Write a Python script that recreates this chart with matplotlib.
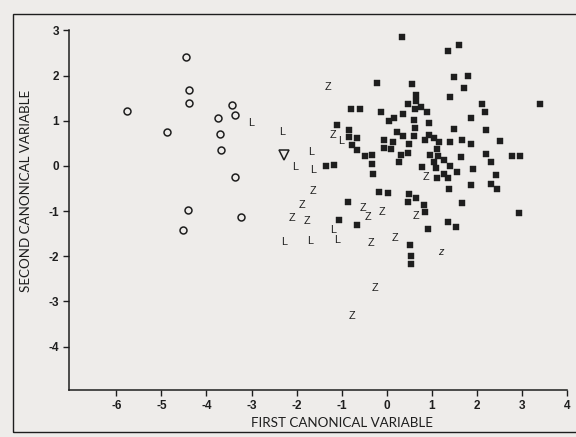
import matplotlib
matplotlib.use("Agg")
import matplotlib.pyplot as plt
from matplotlib.patches import Rectangle

# ---- data ----
sq_x = [0.33, 1.37, 1.61, 1.50, 1.80, 1.72, 1.41, -0.22, 0.55, 0.64, 0.64, 0.48, 0.76, 0.62,
        0.89, 2.12, 2.18, 3.40, -0.80, -0.59, -0.13, 0.36, 0.16, 0.04, 0.61, 1.88, 0.94,
        -1.10, 0.63, 1.50, 2.20, -0.84, 0.22, 0.35, 0.61, 0.93, 1.04, -0.84, -0.65, -0.06,
        0.13, 0.84, 1.15, 1.41, 1.66, 1.86, 2.52, -0.78, 0.49, -0.07, 0.10, 1.12, -0.67,
        0.48, 0.32, -0.48, -0.33, 0.97, 1.13, 1.27, 1.65, 2.21, 2.79, 2.96, 2.31, -0.32,
        0.28, 1.04, -1.35, -1.16, 0.79, 1.10, 1.40, 1.91, 1.56, 1.27, 1.11, 1.37, 2.42,
        1.38, 1.86, 2.31, 2.45, -0.18, 0.02, 0.49, 0.64, 0.48, 0.83, 1.66, -0.86, 0.86,
        2.93, -1.06, -0.66, 0.92, 1.37, 1.54, 0.52, 0.53, 0.53, -0.30]
sq_y = [2.85, 2.54, 2.67, 1.97, 1.99, 1.72, 1.52, 1.84, 1.81, 1.58, 1.43, 1.37, 1.31, 1.25,
        1.19, 1.36, 1.20, 1.36, 1.25, 1.25, 1.19, 1.15, 1.06, 1.00, 1.01, 1.05, 0.96,
        0.91, 0.85, 0.82, 0.79, 0.80, 0.75, 0.66, 0.66, 0.68, 0.61, 0.63, 0.61, 0.57,
        0.52, 0.57, 0.52, 0.52, 0.58, 0.48, 0.56, 0.46, 0.49, 0.40, 0.37, 0.37, 0.35,
        0.29, 0.25, 0.22, 0.25, 0.24, 0.22, 0.13, 0.20, 0.27, 0.22, 0.22, 0.08, 0.05,
        0.09, 0.09, 0.00, 0.01, -0.02, -0.04, -0.01, -0.07, -0.14, -0.18, -0.27, -0.27, -0.21,
        -0.50, -0.43, -0.40, -0.52, -0.58, -0.60, -0.63, -0.71, -0.80, -0.86, -0.83, -0.80, -1.03,
        -1.05, -1.19, -1.31, -1.39, -1.25, -1.36, -1.75, -2.00, -2.17, -0.18]

circ_x = [-4.46, -4.38, -4.38, -5.76, -3.43, -3.37, -3.74, -4.88, -3.70, -3.68, -3.36, -4.41, -3.24, -4.52]
circ_y = [2.41, 1.67, 1.39, 1.22, 1.34, 1.13, 1.05, 0.76, 0.71, 0.35, -0.25, -0.97, -1.14, -1.42]

l_x = [-3.02, -2.33, -1.67, -1.02, -2.03, -1.63, -1.18, -2.28, -1.69, -1.11]
l_y = [0.94, 0.74, 0.30, 0.56, -0.03, -0.09, -1.42, -1.69, -1.67, -1.64]

z_x = [-1.31, -1.20, -1.63, -1.88, -2.11, -1.78, -0.52, -0.41, -0.10, 0.64, 0.86, -0.35, 0.19, -0.27, -0.78]
z_y = [1.74, 0.69, -0.56, -0.86, -1.15, -1.23, -0.93, -1.14, -1.02, -1.11, -0.24, -1.71, -1.60, -2.71, -3.33]
small_z_x = [1.20]
small_z_y = [-1.90]

tri_x = [-2.28]
tri_y = [0.24]

x_ticks = [-6, -5, -4, -3, -2, -1, 0, 1, 2, 3, 4]
y_ticks = [-4, -3, -2, -1, 0, 1, 2, 3]
x_label = "FIRST CANONICAL VARIABLE"
y_label = "SECOND CANONICAL VARIABLE"

# ---- figure ----
bg = "#eeecea"
fig = plt.figure(figsize=(5.76, 4.37), dpi=100, facecolor=bg)
ax = fig.add_axes([0.1198, 0.1076, 0.8646, 0.828])
ax.set_facecolor(bg)

ink = "#1e1e1e"
ax.plot(sq_x, sq_y, linestyle="none", marker="s", markersize=4.7,
        markerfacecolor=ink, markeredgecolor=ink, markeredgewidth=0.3)
ax.plot(circ_x, circ_y, linestyle="none", marker="o", markersize=5.0,
        markerfacecolor="none", markeredgecolor=ink, markeredgewidth=1.1)
ax.plot(tri_x, tri_y, linestyle="none", marker="v", markersize=7.5,
        markerfacecolor="none", markeredgecolor=ink, markeredgewidth=1.1)

letter_font = ["Liberation Sans", "DejaVu Sans"]
for x, y in zip(l_x, l_y):
    ax.text(x, y, "L", ha="center", va="center", fontsize=7.8, color=ink, family=letter_font)
for x, y in zip(z_x, z_y):
    ax.text(x, y, "Z", ha="center", va="center", fontsize=7.8, color=ink, family=letter_font)
for x, y in zip(small_z_x, small_z_y):
    ax.text(x, y, "z", ha="center", va="center", fontsize=7.8, color=ink, family=letter_font,
            style="italic")

ax.set_xlim(-7.05, 4.0)
ax.set_ylim(-4.96, 3.05)
ax.set_xticks(x_ticks)
ax.set_yticks(y_ticks)
ax.set_xticklabels([str(t) for t in x_ticks])
ax.set_yticklabels([str(t) for t in y_ticks])

for s in ["top", "right"]:
    ax.spines[s].set_visible(False)
for s in ["left", "bottom"]:
    ax.spines[s].set_linewidth(1.1)
    ax.spines[s].set_color(ink)
ax.spines["left"].set_bounds(-4.96, 3.0)

ax.tick_params(axis="both", direction="out", length=4, width=1.0, color=ink,
               labelcolor=ink, pad=3)
for lab in ax.get_xticklabels() + ax.get_yticklabels():
    lab.set_fontfamily(["Liberation Sans", "DejaVu Sans"])
    lab.set_fontsize(8.5)
    lab.set_fontweight("bold")

label_font = ["Lato", "Liberation Sans", "DejaVu Sans"]
ax.set_xlabel(x_label, fontsize=9.6, family=label_font, color=ink)
ax.set_ylabel(y_label, fontsize=9.6, family=label_font, color=ink)
ax.xaxis.set_label_coords(0.548, -0.075)
ax.yaxis.set_label_coords(-0.075, 0.55)

# outer frame of the figure
fig.patches.append(Rectangle((0.0226, 0.011), 1.2, 0.957, transform=fig.transFigure,
                             fill=False, edgecolor=ink, linewidth=1.0))

fig.savefig("out.png", dpi=100, facecolor=bg)
